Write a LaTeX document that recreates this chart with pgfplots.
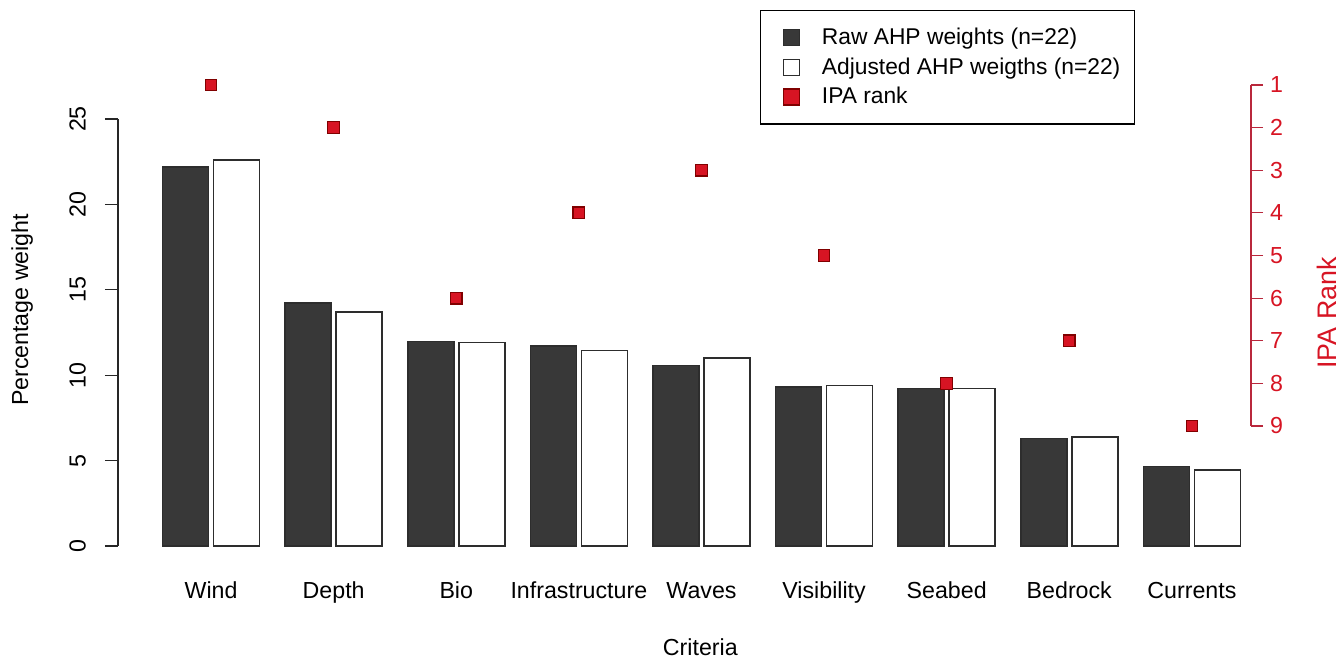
\documentclass[border=0pt]{standalone}
\usepackage{pgfplots}
\pgfplotsset{compat=1.18}
\usepackage{pgfplotstable}
\usepackage{fontspec}
\setmainfont{Liberation Sans}
\definecolor{barfill}{RGB}{56,56,56}
\definecolor{baredge}{RGB}{45,45,45}
\definecolor{ipared}{RGB}{215,20,35}
\definecolor{axred}{RGB}{185,40,60}
\pgfplotstableread{
x raw adj rank
0 22.19 22.60 1
1 14.23 13.70 2
2 11.98 11.90 6
3 11.70 11.46 4
4 10.58 11.02 3
5 9.31 9.39 5
6 9.21 9.21 8
7 6.28 6.38 7
8 4.64 4.45 9
}\datatable
\newcommand{\lblfont}{\fontsize{11.6}{13.9}\selectfont}
\begin{document}
\begin{tikzpicture}[font=\lblfont]
\useasboundingbox (-59pt,-58.5pt) rectangle (613pt,273pt);
\begin{axis}[
  at={(0pt,0pt)}, anchor=south west,
  scale only axis, width=566.5pt, height=213.5pt,
  xmin=-0.759, xmax=8.482, ymin=0, ymax=25,
  enlargelimits=false, clip=false,
  axis y line*=left, axis x line*=bottom,
  x axis line style={draw=none},
  y axis line style={black!85, line width=0.6pt},
  xtick={0,...,8},
  xticklabels={Wind,Depth,Bio,Infrastructure,Waves,Visibility,Seabed,Bedrock,Currents},
  xtick style={draw=none},
  xticklabel style={anchor=base, yshift=-20pt, font=\lblfont},
  ytick={0,5,...,25},
  tick align=outside, major tick length=6.5pt,
  ytick style={black!85, line width=0.6pt},
  yticklabel shift=6pt,
  yticklabel style={rotate=90, anchor=south, font=\lblfont},
  /pgf/number format/assume math mode=true,
  ylabel={Percentage weight},
  ylabel style={at={(rel axis cs:-0.0847,0.553)}, anchor=center, font=\lblfont},
  xlabel={Criteria},
  xlabel style={at={(rel axis cs:0.514,0)}, anchor=base, yshift=-55pt, font=\lblfont},
  legend cell align=left,
  legend style={at={(0.5666,1.255)}, anchor=north west, draw=black, line width=0.6pt,
    inner xsep=4pt, inner ysep=7pt, row sep=1.6pt, font=\fontsize{11.4}{13.7}\selectfont,
    nodes={inner ysep=1.7pt, inner xsep=3pt},
    /tikz/every odd column/.append style={column sep=8pt}},
]
\addplot[ybar, bar width=0.375, bar shift=0pt, fill=barfill, draw=baredge, line width=0.75pt,
  legend image code/.code={\path (0pt,0pt); \draw[fill=barfill, draw=baredge, line width=0.6pt] (7pt,-4pt) rectangle (15pt,4pt);}]
  table[x expr=\thisrow{x}-0.208, y=raw]{\datatable};
\addlegendentry{Raw AHP weights (n=22)}
\addplot[ybar, bar width=0.375, bar shift=0pt, fill=white, draw=baredge, line width=0.75pt,
  legend image code/.code={\path (0pt,0pt); \draw[fill=white, draw=baredge, line width=0.6pt] (7pt,-4pt) rectangle (15pt,4pt);}]
  table[x expr=\thisrow{x}+0.208, y=adj]{\datatable};
\addlegendentry{Adjusted AHP weigths (n=22)}
\addlegendimage{legend image code/.code={\path (0pt,0pt); \draw[fill=ipared, draw=black!50!red, line width=0.6pt] (7pt,-4pt) rectangle (15pt,4pt);}}
\addlegendentry{IPA rank}
\node[rotate=90, text=ipared, font=\fontsize{13.4}{16}\selectfont] at (rel axis cs:1.067,0.546) {IPA Rank};
\end{axis}
\begin{axis}[
  at={(0pt,60pt)}, anchor=south west,
  scale only axis, width=566.5pt, height=170.5pt,
  xmin=-0.759, xmax=8.482, ymin=1, ymax=9, y dir=reverse,
  enlargelimits=false, clip=false,
  axis y line*=right, axis x line=none,
  xtick=\empty,
  ytick={1,...,9},
  tick align=outside, major tick length=6pt,
  y axis line style={axred, line width=0.6pt},
  ytick style={axred, line width=0.6pt},
  yticklabel style={text=ipared, anchor=west, font=\lblfont},
  /pgf/number format/assume math mode=true,
]
\addplot[only marks, mark=square*, mark size=2.9pt,
  mark options={fill=ipared, draw=black!50!red, line width=0.6pt}]
  table[x=x, y=rank]{\datatable};
\end{axis}
\end{tikzpicture}
\end{document}
